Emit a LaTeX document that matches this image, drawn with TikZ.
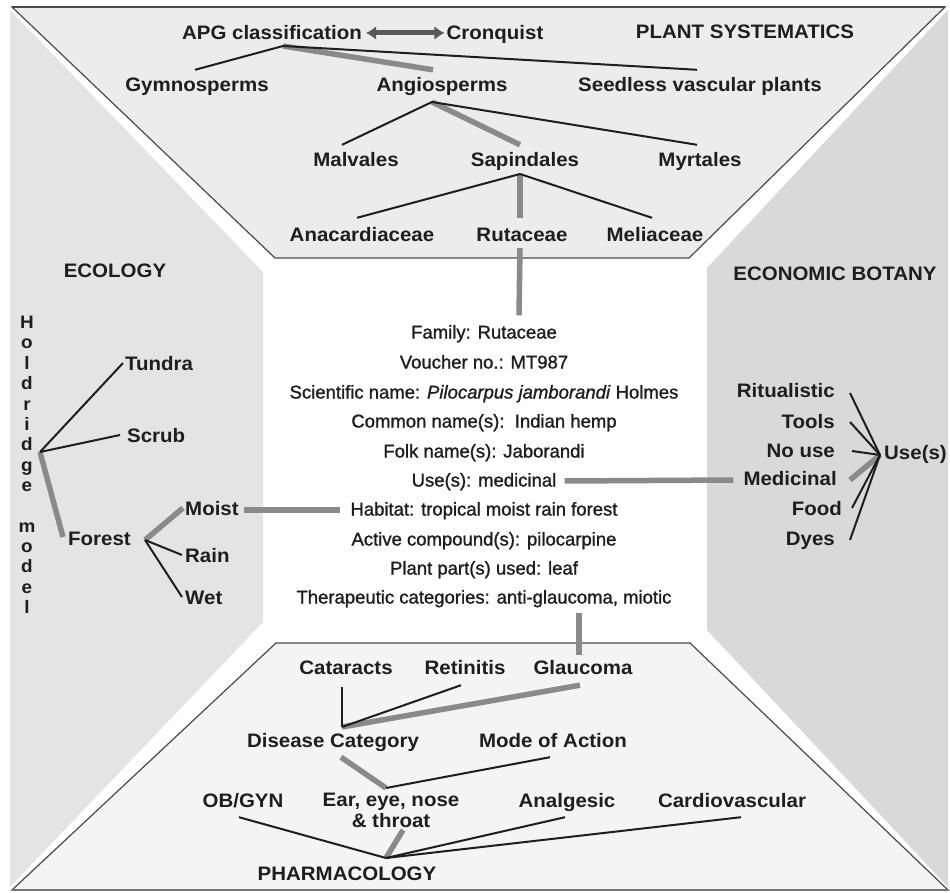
\documentclass[tikz,border=0pt]{standalone}
\usepackage{fontspec}
\setmainfont{Liberation Sans}
\newfontfamily\lblfam[FakeStretch=1.05]{Liberation Sans}
\newfontfamily\infofam[FakeBold=1.2]{Liberation Sans}
\usetikzlibrary{arrows.meta,calc}
\definecolor{lwall}{HTML}{E4E4E4}
\definecolor{rwall}{HTML}{D9D9D9}
\definecolor{ceil}{HTML}{ECECEC}
\definecolor{floorc}{HTML}{F4F4F4}
\definecolor{edgec}{HTML}{4A4A4A}
\definecolor{txt}{HTML}{1E1E1E}
\definecolor{thickg}{HTML}{8A8A8A}
\newcommand\lblfont{\lblfam\fontsize{19.5}{21}\selectfont\bfseries}
\newcommand\infofont{\infofam\fontsize{18.5}{20}\selectfont}
\begin{document}
\begin{tikzpicture}[x=1pt,y=-1pt,
  lbl/.style={font=\lblfont, text=txt, inner sep=0pt, text height=14pt, text depth=0pt},
  info/.style={font=\infofont, text=txt, inner sep=0pt, text height=13pt, text depth=0pt},
  blk/.style={draw=txt, line width=2pt},
  gry/.style={draw=thickg, line width=5.5pt},
  dbl/.style={draw=black!65, line width=5pt, {Latex[length=10pt,width=14pt]}-{Latex[length=10pt,width=14pt]}}
]
\useasboundingbox (0,0) rectangle (950,893);
% background
\fill[white] (0,0) rectangle (950,893);
\fill[lwall] (10,10) -- (263,272) -- (263,622) -- (10,887) -- cycle;
\fill[rwall] (948,10) -- (707,268) -- (707,630) -- (948,887) -- cycle;
\filldraw[fill=ceil, draw=edgec, line width=1.2pt] (12,7) -- (945,7) -- (689,258) -- (275,258) -- cycle;
\draw[edgec, line width=2pt] (12,7) -- (945,7);
\filldraw[fill=floorc, draw=edgec, line width=1.2pt] (276,643) -- (690,643) -- (948,890) -- (12,890) -- cycle;
\draw[black!55, line width=2pt] (12,890) -- (948,890);

% ---------- plant systematics ----------
\node[lbl] (apg) at (272,33) {APG classification};
\node[lbl] (cron) at (495,33) {Cronquist};
\node[lbl] (plsys) at (745,32) {PLANT SYSTEMATICS};
\node[lbl] (gym) at (197,85) {Gymnosperms};
\node[lbl] (ang) at (442,85) {Angiosperms};
\node[lbl] (seed) at (700,85) {Seedless vascular plants};
\node[lbl] (mal) at (356,160) {Malvales};
\node[lbl] (sap) at (525,160) {Sapindales};
\node[lbl] (myr) at (700,160) {Myrtales};
\node[lbl] (ana) at (362,235) {Anacardiaceae};
\node[lbl] (rut) at (522,235) {Rutaceae};
\node[lbl] (mel) at (655,235) {Meliaceae};
\coordinate (jAPG) at (283,46);
\coordinate (jAng) at (432,102);
\coordinate (jSap) at (520,174);
\draw[dbl] ($(apg.east)+(4,0)$) -- ($(cron.west)+(-2,0)$);
\draw[gry] (jAPG) -- ($(ang.north)+(-9,-8)$);
\draw[blk] (jAPG) -- ($(gym.north)+(-2,-8)$);
\draw[blk] (jAPG) -- ($(seed.north)+(-3,-8)$);
\draw[gry] (jAng) -- ($(sap.north)+(-5,-8)$);
\draw[blk] (jAng) -- ($(mal.north)+(-14,-8)$);
\draw[blk] (jAng) -- ($(myr.north)+(-3,-8)$);
\draw[gry] (jSap) -- ($(rut.north)+(-2,-10)$);
\draw[blk] (jSap) -- ($(ana.north)+(-5,-10)$);
\draw[blk] (jSap) -- ($(mel.north)+(-3,-10)$);

% ---------- central record ----------
\node[info] (i1) at (484,332) {Family: Rutaceae};
\node[info] (i2) at (484,362) {Voucher no.: MT987};
\node[info] (i3) at (484,392) {Scientific name: \textit{Pilocarpus jamborandi} Holmes};
\node[info] (i4) at (484,421) {Common name(s):\ \ Indian hemp};
\node[info] (i5) at (484,451) {Folk name(s): Jaborandi};
\node[info] (i6) at (484,480) {Use(s): medicinal};
\node[info] (i7) at (484,509) {Habitat: tropical moist rain forest};
\node[info] (i8) at (484,539) {Active compound(s): pilocarpine};
\node[info] (i9) at (484,568) {Plant part(s) used: leaf};
\node[info] (i10) at (484,597) {Therapeutic categories: anti-glaucoma, miotic};
\draw[gry] ($(rut.south)+(-2,6)$) -- ($(i1.north)+(35,-10)$);

% ---------- ecology ----------
\node[lbl] (eco) at (115,270) {ECOLOGY};
\node[lbl, anchor=north, align=center, font=\lblfam\fontsize{18}{20.36}\selectfont\bfseries, text height=, text depth=] (hold) at (27,316)
  {H\\o\\l\\d\\r\\i\\d\\g\\e\\[20.36pt]m\\o\\d\\e\\l};
\node[lbl, anchor=west] (tun) at (125,363) {Tundra};
\node[lbl, anchor=west] (scr) at (127,435) {Scrub};
\node[lbl, anchor=west] (forest) at (68,538) {Forest};
\node[lbl, anchor=west] (moi) at (185,508) {Moist};
\node[lbl, anchor=west] (rain) at (185,555) {Rain};
\node[lbl, anchor=west] (wet) at (185,597) {Wet};
\coordinate (jHol) at (40,452);
\coordinate (jFor) at (145,540);
\draw[gry] (jHol) -- ($(forest.west)+(-5,-1)$);
\draw[blk] (jHol) -- ($(tun.west)+(-2,0)$);
\draw[blk] (jHol) -- ($(scr.west)+(-7,0)$);
\draw[gry] (jFor) -- ($(moi.west)+(-2,0)$);
\draw[blk] (jFor) -- ($(rain.west)+(-3,0)$);
\draw[blk] (jFor) -- ($(wet.west)+(-3,0)$);
\draw[gry] ($(moi.east)+(5,2)$) -- ($(i7.west)+(-10,1)$);

% ---------- economic botany ----------
\node[lbl] (econ) at (835,273) {ECONOMIC BOTANY};
\node[lbl, anchor=east] (rit) at (835,390) {Ritualistic};
\node[lbl, anchor=east] (tools) at (835,421) {Tools};
\node[lbl, anchor=east] (nouse) at (835,450) {No use};
\node[lbl, anchor=east] (medi) at (837,478) {Medicinal};
\node[lbl, anchor=east] (food) at (842,508) {Food};
\node[lbl, anchor=east] (dyes) at (835,538) {Dyes};
\node[lbl, anchor=west] (uses) at (884,452) {Use(s)};
\coordinate (jUse) at (880,455);
\draw[gry] (jUse) -- ($(medi.east)+(13,2)$);
\draw[blk] (jUse) -- ($(rit.east)+(15,3)$);
\draw[blk] (jUse) -- ($(tools.east)+(15,1)$);
\draw[blk] (jUse) -- ($(nouse.east)+(17,1)$);
\draw[blk] (jUse) -- ($(food.east)+(10,0)$);
\draw[blk] (jUse) -- ($(dyes.east)+(15,2)$);
\draw[gry] ($(i6.east)+(8,1)$) -- ($(medi.west)+(-10,2)$);

% ---------- pharmacology ----------
\node[lbl] (cat) at (346,667) {Cataracts};
\node[lbl] (ret) at (465,667) {Retinitis};
\node[lbl] (gla) at (583,667) {Glaucoma};
\node[lbl] (dis) at (333,740) {Disease Category};
\node[lbl] (mode) at (553,740) {Mode of Action};
\node[lbl] (ob) at (243,800) {OB/GYN};
\node[lbl, anchor=north, align=center, font=\lblfam\fontsize{19.5}{21}\selectfont\bfseries, text height=, text depth=] (ear) at (391,793) {Ear, eye, nose\\\& throat};
\node[lbl] (anl) at (567,800) {Analgesic};
\node[lbl] (card) at (732,800) {Cardiovascular};
\node[lbl] (pharm) at (347,873) {PHARMACOLOGY};
\coordinate (jDis) at (342,727);
\coordinate (jMode) at (386,788);
\coordinate (jPh) at (386,858);
\draw[gry] ($(i10.south)+(95,9)$) -- ($(gla.north)+(-4,-5)$);
\draw[gry] ($(gla.south)+(-3,11)$) -- (jDis);
\draw[blk] ($(cat.south)+(-4,13)$) -- (jDis);
\draw[blk] ($(ret.south)+(-4,11)$) -- (jDis);
\draw[gry] ($(dis.south)+(8,10)$) -- (jMode);
\draw[blk] ($(mode.south)+(-3,10)$) -- (jMode);
\draw[gry] ($(ear.south)+(12,2)$) -- (jPh);
\draw[blk] ($(ob.south)+(-4,10)$) -- (jPh);
\draw[blk] ($(anl.south)+(-2,10)$) -- (jPh);
\draw[blk] ($(card.south)+(9,10)$) -- (jPh);
\end{tikzpicture}
\end{document}
